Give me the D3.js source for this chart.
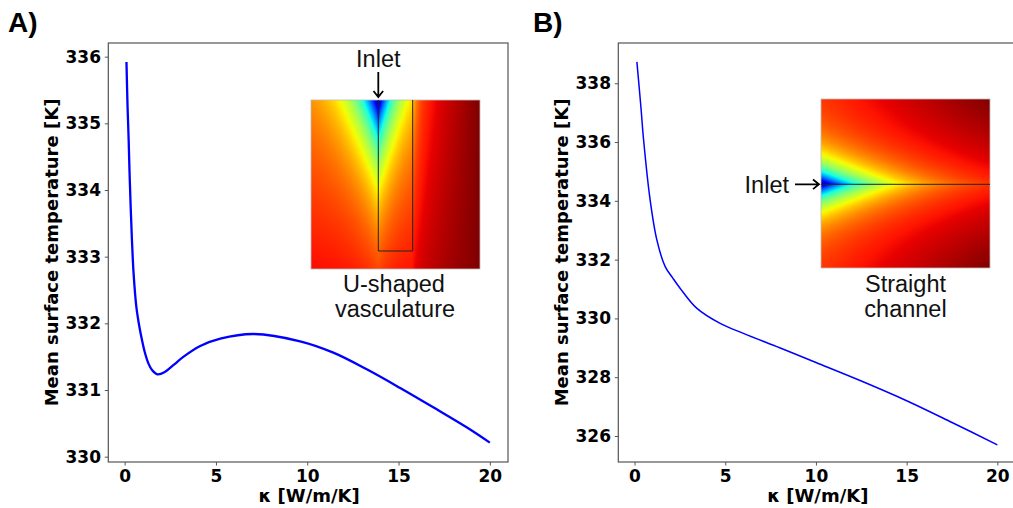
<!DOCTYPE html>
<html>
<head>
<meta charset="utf-8">
<script src="https://cdn.jsdelivr.net/npm/d3@7"></script>
<style>
  body { margin: 0; background: #fff; }
  .tick text { font-family: "DejaVu Sans", sans-serif; font-weight: bold; font-size: 17px; fill: #000; }
  .tick line, .domain { stroke: #555; }
</style>
</head>
<body>
<div id="chart"></div>
<script>
// data
var kappaA = [0.1, 0.16, 0.22, 0.27, 0.33, 0.4, 0.49, 0.64, 0.8, 0.95, 1.1, 1.3, 1.5, 1.8, 2.2, 2.7, 3.23, 4.14, 5.24, 7.06, 9.61, 11.43, 13.26, 15.09, 16.9, 18.73, 20];
var tempA  = [335.92, 335.25, 334.75, 334.25, 333.75, 333.25, 332.75, 332.25, 331.96, 331.75, 331.57, 331.4, 331.3, 331.235, 331.27, 331.38, 331.5, 331.66, 331.77, 331.84, 331.73, 331.56, 331.31, 331.03, 330.74, 330.44, 330.21];

var kappaB = [0.13, 0.35, 0.5, 0.86, 1.23, 1.69, 2.1, 2.52, 3.44, 4.72, 6, 8, 10, 12.5, 15, 17.5, 20];
var tempB  = [338.73, 337.2, 336.07, 334.03, 332.67, 331.76, 331.38, 331.02, 330.34, 329.83, 329.49, 329.0, 328.5, 327.87, 327.2, 326.46, 325.7];

var xTicks = [0, 5, 10, 15, 20];
var yTicksA = [330, 331, 332, 333, 334, 335, 336];
var yTicksB = [326, 328, 330, 332, 334, 336, 338];

var W = 1013, H = 508;
var svg = d3.select("#chart").append("svg").attr("width", W).attr("height", H);

// matplotlib "jet"
var jr = d3.scaleLinear().domain([0, 0.35, 0.66, 0.89, 1]).range([0, 0, 1, 1, 0.5]).clamp(true);
var jg = d3.scaleLinear().domain([0, 0.125, 0.375, 0.64, 0.91, 1]).range([0, 0, 1, 1, 0, 0]).clamp(true);
var jb = d3.scaleLinear().domain([0, 0.11, 0.34, 0.65, 1]).range([0.5, 1, 1, 0, 0]).clamp(true);

function fieldImage(n, f) {
  var cv = document.createElement("canvas");
  cv.width = n; cv.height = n;
  var ctx = cv.getContext("2d");
  var img = ctx.createImageData(n, n);
  for (var j = 0; j < n; j++) {
    for (var i = 0; i < n; i++) {
      var v = f((i + 0.5) / n, (j + 0.5) / n);
      var k = 4 * (j * n + i);
      img.data[k] = Math.round(255 * jr(v));
      img.data[k + 1] = Math.round(255 * jg(v));
      img.data[k + 2] = Math.round(255 * jb(v));
      img.data[k + 3] = 255;
    }
  }
  ctx.putImageData(img, 0, 0);
  return cv.toDataURL();
}

// U-shaped vasculature field
function fieldU(u, w) {
  var d = Math.abs(u - 0.398);
  var s = u < 0.398 ? 0.14 : 0.11;
  var vb = 0.80 + 0.1 * w;
  var c = Math.exp(-d / s - w / 0.38);
  if (u > 0.6) {
    var t = (u - 0.6) / 0.4;
    vb = vb + (1 - vb) * Math.pow(t, 0.6);
    c = c * Math.exp(-(u - 0.6) / 0.04);
  }
  return vb * (1 - c);
}
// straight channel field
function fieldS(u, w) {
  var d = Math.abs(w - 0.5);
  var vb = 0.87 + 0.13 * u * (0.3 + 1.4 * d);
  var c = Math.exp(-d / 0.13 - u / 0.35);
  return vb * (1 - c);
}

function drawPanel(opt) {
  var x = d3.scaleLinear().domain([-0.895, 20.995]).range([opt.left, opt.right]);
  var y = d3.scaleLinear().domain(opt.ydom).range([462, 43]);

  svg.append("g").attr("transform", "translate(0,462)")
    .call(d3.axisBottom(x).tickValues(xTicks).tickFormat(d3.format("d")).tickSize(3.5).tickPadding(4.6).tickSizeOuter(0))
    .call(function(g) { g.select(".domain").remove(); });
  svg.append("g").attr("transform", "translate(" + opt.left + ",0)")
    .call(d3.axisLeft(y).tickValues(opt.yticks).tickFormat(d3.format("d")).tickSize(3.5).tickPadding(3.8).tickSizeOuter(0))
    .call(function(g) { g.select(".domain").remove(); });

  // inset
  var ins = opt.inset;
  svg.append("image").attr("x", ins.x).attr("y", ins.y).attr("width", ins.s).attr("height", ins.s)
    .attr("preserveAspectRatio", "none")
    .attr("href", fieldImage(ins.s, ins.field));
  svg.append("rect").attr("x", ins.x).attr("y", ins.y).attr("width", ins.s).attr("height", ins.s)
    .attr("fill", "none").attr("stroke", "#bbb").attr("stroke-width", 0.8);
  svg.append("path").attr("d", ins.channel).attr("fill", "none")
    .attr("stroke", "#222").attr("stroke-width", 1);
  svg.append("path").attr("d", ins.arrow).attr("fill", "none")
    .attr("stroke", "#000").attr("stroke-width", 1.8);
  ins.labels.forEach(function(l) {
    svg.append("text").attr("x", l[0]).attr("y", l[1]).attr("text-anchor", l[3] || "middle")
      .attr("font-family", "'Liberation Sans', Arial, sans-serif").attr("font-size", 23.5)
      .attr("fill", "#111").text(l[2]);
  });

  // frame
  svg.append("rect").attr("x", opt.left).attr("y", 43).attr("width", opt.right - opt.left).attr("height", 419)
    .attr("fill", "none").attr("stroke", "#555").attr("stroke-width", 1.2);

  var line = d3.line().x(function(d) { return x(d[0]); }).y(function(d) { return y(d[1]); })
    .curve(d3.curveCatmullRom.alpha(0.5));
  svg.append("path").datum(d3.zip(opt.kappa, opt.temp)).attr("d", line)
    .attr("fill", "none").attr("stroke", "#0000ff").attr("stroke-width", opt.lw);

  svg.append("text").attr("x", (opt.left + opt.right) / 2 + 1).attr("y", 502)
    .attr("text-anchor", "middle").attr("font-family", "'DejaVu Sans', sans-serif")
    .attr("font-weight", "bold").attr("font-size", 18).text("κ [W/m/K]");
  svg.append("text").attr("transform", "translate(" + opt.ylabX + ",252.5) rotate(-90)")
    .attr("text-anchor", "middle").attr("font-family", "'DejaVu Sans', sans-serif")
    .attr("font-weight", "bold").attr("font-size", 18).text("Mean surface temperature [K]");
  svg.append("text").attr("x", opt.letterX).attr("y", 32)
    .attr("font-family", "'Liberation Sans', Arial, sans-serif").attr("font-weight", "bold")
    .attr("font-size", 28).text(opt.letter);
}

drawPanel({
  left: 108.3, right: 508, ydom: [329.92, 336.205], yticks: yTicksA,
  kappa: kappaA, temp: tempA, lw: 2.3, ylabX: 58, letterX: 8, letter: "A)",
  inset: {
    x: 311, y: 100, s: 169, field: fieldU,
    channel: "M378.3,100V251H412.7V100",
    arrow: "M378.3,72V97M373.5,91L378.3,97L383.1,91",
    labels: [[378.3, 67, "Inlet"], [394, 292, "U-shaped"], [395, 316.5, "vasculature"]]
  }
});
drawPanel({
  left: 618.3, right: 1015.4, ydom: [325.115, 339.37], yticks: yTicksB,
  kappa: kappaB, temp: tempB, lw: 1.5, ylabX: 568, letterX: 533, letter: "B)",
  inset: {
    x: 821, y: 99, s: 169, field: fieldS,
    channel: "M821,184.3H990",
    arrow: "M795,184.3H819M813,179.5L819,184.3L813,189.1",
    labels: [[789, 192.5, "Inlet", "end"], [905.5, 292, "Straight"], [905.5, 316.5, "channel"]]
  }
});
</script>
</body>
</html>
